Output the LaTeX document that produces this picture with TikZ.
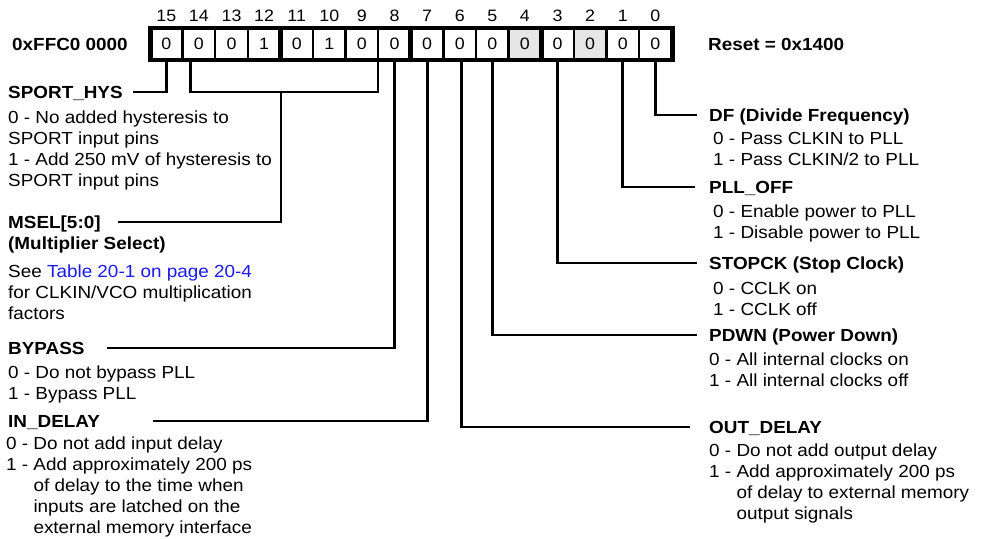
\documentclass[tikz,border=0pt]{standalone}
\usepackage{fontspec}
\setmainfont{Liberation Sans}[FakeStretch=1.08]
\definecolor{regGray}{HTML}{E6E6E6}
\definecolor{linkblue}{HTML}{1A1AF0}
\newcommand\bodyfnt{\fontsize{17.5}{21}\selectfont}
\newcommand\smallfnt{\fontsize{16.5}{18}\selectfont}
\tikzset{
  txt/.style={anchor=base west, inner sep=0pt, font=\bodyfnt},
  ttl/.style={anchor=base west, inner sep=0pt, font=\bodyfnt\bfseries},
  cell/.style={draw, line width=2.5pt, minimum width=32.6pt, minimum height=32pt,
               inner sep=0pt, font=\smallfnt},
  bitnum/.style={inner sep=0pt, font=\smallfnt},
  conn/.style={line width=2.8pt},
  frame/.style={line width=3.5pt},
  nib/.style={line width=5pt},
}
\begin{document}
\begin{tikzpicture}[x=1pt, y=-1pt]
\useasboundingbox (0,0) rectangle (984,538);

% register cells
\foreach \b/\v/\f in {15/0/white,14/0/white,13/0/white,12/1/white,
                      11/0/white,10/1/white,9/0/white,8/0/white,
                      7/0/white,6/0/white,5/0/white,4/0/regGray,
                      3/0/white,2/0/regGray,1/0/white,0/0/white}{
  \node[cell, fill=\f] (c\b) at ({150+32.6*(15-\b+0.5)},44) {\v\hspace{7pt}};
  \node[bitnum] (n\b) at ({150+32.6*(15-\b+0.5)},16) {\b};
}
\draw[frame] (150,28) -- (672,28);
\draw[frame] (150,60) -- (672,60);
\foreach \x in {150,280.4,410.8,541.2,672}{
  \draw[nib] (\x,25.5) -- (\x,62);
}

\node[ttl] (addr) at (12,50) {0xFFC0 0000};
\node[ttl] (reset) at (708,50) {Reset = 0x1400};

% left side texts
\node[ttl] (sport) at (8,98) {SPORT\_HYS};
\node[txt] (sportd) at (8,123) {\parbox[t]{300pt}{0 - No added hysteresis to\\SPORT input pins\\1 - Add 250 mV of hysteresis to\\SPORT input pins}};
\node[ttl] (msel) at (8,228) {\parbox[t]{300pt}{MSEL[5:0]\\(Multiplier Select)}};
\node[txt] (mseld) at (8,277) {\parbox[t]{300pt}{See \textcolor{linkblue}{Table 20-1 on page 20-4}\\for CLKIN/VCO multiplication\\factors}};
\node[ttl] (bypass) at (8,354) {BYPASS};
\node[txt] (bypassd) at (8,378) {\parbox[t]{300pt}{0 - Do not bypass PLL\\1 - Bypass PLL}};
\node[ttl] (indel) at (8,427) {IN\_DELAY};
\node[txt] (indeld) at (6,449) {\parbox[t]{300pt}{0 - Do not add input delay\\1 - Add approximately 200 ps\\\phantom{1 - }of delay to the time when\\\phantom{1 - }inputs are latched on the\\\phantom{1 - }external memory interface}};

% right side texts
\node[ttl] (df) at (709,121) {DF (Divide Frequency)};
\node[txt] (dfd) at (713,144) {\parbox[t]{260pt}{0 - Pass CLKIN to PLL\\1 - Pass CLKIN/2 to PLL}};
\node[ttl] (plloff) at (709,193) {PLL\_OFF};
\node[txt] (plloffd) at (713,217) {\parbox[t]{260pt}{0 - Enable power to PLL\\1 - Disable power to PLL}};
\node[ttl] (stopck) at (709,269) {STOPCK (Stop Clock)};
\node[txt] (stopckd) at (713,294) {\parbox[t]{260pt}{0 - CCLK on\\1 - CCLK off}};
\node[ttl] (pdwn) at (709,341) {PDWN (Power Down)};
\node[txt] (pdwnd) at (709,365) {\parbox[t]{260pt}{0 - All internal clocks on\\1 - All internal clocks off}};
\node[ttl] (outdel) at (709,433) {OUT\_DELAY};
\node[txt] (outdeld) at (709,456) {\parbox[t]{260pt}{0 - Do not add output delay\\1 - Add approximately 200 ps\\\phantom{1 - }of delay to external memory\\\phantom{1 - }output signals}};

% connector ends
\coordinate (eSport) at (133,92);
\coordinate (mA) at ([xshift=9pt]c14.south west);
\coordinate (mB) at ([xshift=-1.5pt]c9.south east);
\coordinate (mMid) at (281,92);
\coordinate (eMsel) at (118,222);
\coordinate (eBypass) at (107,348);
\coordinate (eIndel) at (153,421);
\coordinate (eDf) at (697,115);
\coordinate (ePll) at (695,187);
\coordinate (eStop) at (697,263);
\coordinate (ePdwn) at (697,335);
\coordinate (eOut) at (690,427);

% connectors
\draw[conn] (c15.south) |- (eSport);
\draw[conn] (mA) |- (mMid) -| (mB);
\draw[conn] (mMid) |- (eMsel);
\draw[conn] (c8.south) |- (eBypass);
\draw[conn] (c7.south) |- (eIndel);
\draw[conn] (c0.south) |- (eDf);
\draw[conn] (c1.south) |- (ePll);
\draw[conn] (c3.south) |- (eStop);
\draw[conn] (c5.south) |- (ePdwn);
\draw[conn] ([xshift=2pt]c6.south) |- (eOut);
\end{tikzpicture}
\end{document}
